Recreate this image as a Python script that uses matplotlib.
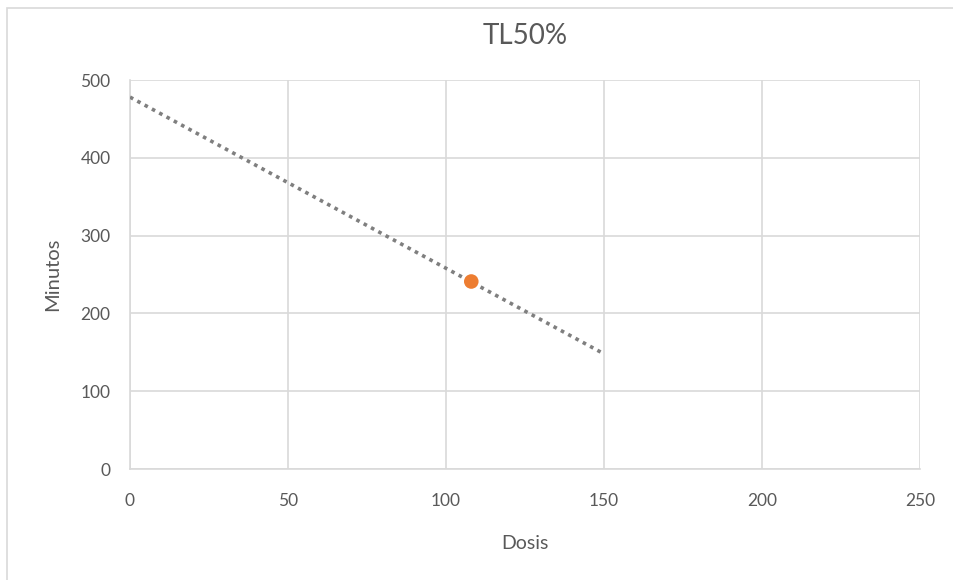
import matplotlib
matplotlib.use('Agg')
import matplotlib.pyplot as plt
from matplotlib.patches import Rectangle

plt.rcParams['font.family'] = ['Lato', 'DejaVu Sans']

# data
dosis = [108]
minutos = [241]
trend_x = [0, 150]
trend_y = [478, 148]
x_ticks = [0, 50, 100, 150, 200, 250]
y_ticks = [0, 100, 200, 300, 400, 500]

txt = '#595959'
grid = '#d9d9d9'

fig = plt.figure(figsize=(9.54, 5.8), dpi=100)
ax = fig.add_axes([130/954, 111/580, 790/954, 389/580])

# outer chart border (light gray)
fig.patches.append(Rectangle((7/954, -0.01), 1.0, (580-8)/580 + 0.01,
                             transform=fig.transFigure, fill=False,
                             edgecolor=grid, lw=1.2))

ax.plot(trend_x, trend_y, linestyle=(0, (1, 1.3)), color='#7f7f7f', lw=2.6,
        zorder=3)
ax.scatter(dosis, minutos, s=110, color='#ed7d31', zorder=4, edgecolors='none')

ax.set_xlim(0, 250)
ax.set_ylim(0, 500)
ax.set_xticks(x_ticks)
ax.set_yticks(y_ticks)
ax.grid(True, color=grid, lw=1.2)
ax.set_axisbelow(True)
for s in ['top', 'right']:
    ax.spines[s].set_visible(False)
for s in ['left', 'bottom']:
    ax.spines[s].set_color(grid)
    ax.spines[s].set_linewidth(1.2)
ax.tick_params(length=0, labelsize=12.5, labelcolor=txt)
ax.tick_params(axis='x', pad=17)
ax.tick_params(axis='y', pad=14)

ax.set_xlabel('Dosis', fontsize=14, color=txt, labelpad=19)
ax.set_ylabel('Minutos', fontsize=14.5, color=txt, labelpad=14)
ax.set_title('TL50%', fontsize=20, color=txt, pad=26)

fig.savefig('out.png', dpi=100)
